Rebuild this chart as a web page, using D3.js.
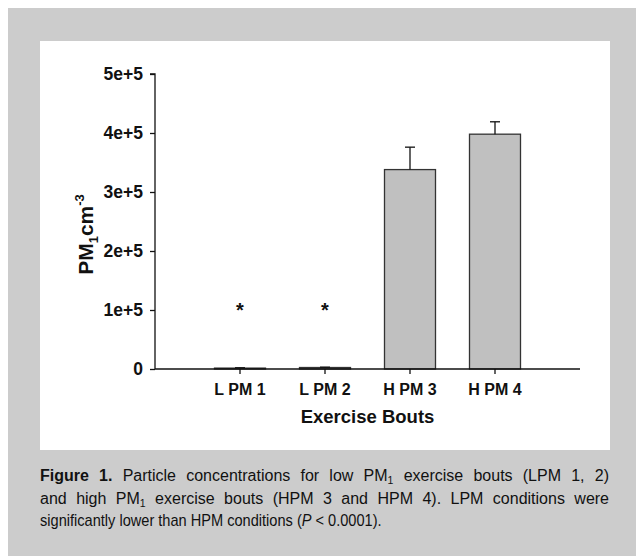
<!DOCTYPE html>
<html>
<head>
<meta charset="utf-8">
<script src="https://cdn.jsdelivr.net/npm/d3@7"></script>
<style>
  body { margin: 0; background: #fff; }
  svg text { font-family: "Liberation Sans", Arial, sans-serif; fill: #111; }
</style>
</head>
<body>
<svg id="chart" width="636" height="556"></svg>
<script>
// data
const bouts = ["L PM 1", "L PM 2", "H PM 3", "H PM 4"];
const means = [1500, 2500, 338000, 398000];
const errors = [600, 600, 38000, 21000];
const significant = [true, true, false, false];
const yTicks = [0, 1e5, 2e5, 3e5, 4e5, 5e5];
const yTickLabels = ["0", "1e+5", "2e+5", "3e+5", "4e+5", "5e+5"];

const svg = d3.select("#chart");

// grey figure frame with white plot panel
svg.append("rect").attr("x", 8).attr("y", 8).attr("width", 628).attr("height", 548).attr("fill", "#cccccc");
svg.append("rect").attr("x", 40).attr("y", 41).attr("width", 570).attr("height", 409).attr("fill", "#ffffff");

const margin = { left: 155, top: 74 },
    width = 425,
    height = 295,
    chart = svg.append("g").attr("transform", `translate(${margin.left},${margin.top})`);

const x = d3.scaleBand().domain(bouts).range([0, width]).paddingInner(0.4).paddingOuter(0.7);
const y = d3.scaleLinear().domain([0, 5e5]).range([height, 0]);

const rows = bouts.map((b, i) => ({ bout: b, mean: means[i], err: errors[i], sig: significant[i] }));

// bars
chart.selectAll(".bar")
    .data(rows)
    .enter()
    .append("rect")
    .attr("class", "bar")
    .attr("x", d => x(d.bout))
    .attr("width", x.bandwidth())
    .attr("y", d => y(d.mean))
    .attr("height", d => height - y(d.mean))
    .attr("fill", "#c0c0c0")
    .attr("stroke", "#333")
    .attr("stroke-width", 1.3);

// upper error bars
const eb = chart.selectAll(".err").data(rows).enter().append("g").attr("class", "err")
    .attr("stroke", "#111").attr("stroke-width", 1.3);
eb.append("line")
    .attr("x1", d => x(d.bout) + x.bandwidth() / 2)
    .attr("x2", d => x(d.bout) + x.bandwidth() / 2)
    .attr("y1", d => y(d.mean))
    .attr("y2", d => y(d.mean + d.err));
eb.append("line")
    .attr("x1", d => x(d.bout) + x.bandwidth() / 2 - 5)
    .attr("x2", d => x(d.bout) + x.bandwidth() / 2 + 5)
    .attr("y1", d => y(d.mean + d.err))
    .attr("y2", d => y(d.mean + d.err));

// significance stars
chart.selectAll(".star")
    .data(rows.filter(d => d.sig))
    .enter()
    .append("text")
    .attr("class", "star")
    .attr("x", d => x(d.bout) + x.bandwidth() / 2)
    .attr("y", y(1e5) + 7)
    .attr("text-anchor", "middle")
    .style("font-size", "20px")
    .style("font-weight", "bold")
    .text("*");

// axes
const yAxis = chart.append("g")
    .call(d3.axisLeft(y).tickValues(yTicks).tickFormat((d, i) => yTickLabels[i]).tickSize(5).tickPadding(7));
const xAxis = chart.append("g")
    .attr("transform", `translate(0,${height})`)
    .call(d3.axisBottom(x).tickSize(5).tickPadding(10));

[yAxis, xAxis].forEach(a => {
    a.select(".domain").attr("stroke", "#111").attr("stroke-width", 1.3);
    a.selectAll(".tick line").attr("stroke", "#111").attr("stroke-width", 1.3);
    a.selectAll("text")
        .style("font-size", "16px")
        .style("font-weight", "bold")
        .attr("fill", "#111");
});
yAxis.selectAll("text").style("font-size", "17.5px");
yAxis.select(".domain").attr("d", `M-5,${y(5e5)}H0V${height}`);
xAxis.select(".domain").attr("d", `M0,0H${width}`);

// axis titles
chart.append("text")
    .attr("text-anchor", "middle")
    .attr("x", width / 2)
    .attr("y", height + 54)
    .style("font-size", "18.5px")
    .style("font-weight", "bold")
    .text("Exercise Bouts");

const yTitle = chart.append("text")
    .attr("text-anchor", "middle")
    .attr("transform", `translate(-62,${height / 2 + 13}) rotate(-90)`)
    .style("font-size", "21px")
    .style("font-weight", "bold");
yTitle.append("tspan").text("PM");
yTitle.append("tspan").attr("dy", 5).style("font-size", "13px").text("1");
yTitle.append("tspan").attr("dy", -5).text("cm");
yTitle.append("tspan").attr("dy", -9).style("font-size", "13px").text("-3");

// caption: first two lines justified to the panel width, last line set tight
const captionLines = [
    [["Figure 1.", "b"], [" Particle concentrations for low PM", "n"], ["1", "sub"], [" exercise bouts (LPM 1, 2)", "n"]],
    [["and high PM", "n"], ["1", "sub"], [" exercise bouts (HPM 3 and HPM 4). LPM conditions were", "n"]],
    [["significantly lower than HPM conditions (", "n"], ["P", "i"], [" < 0.0001).", "n"]]
];
const captionRight = [609, 609, null];

captionLines.forEach((parts, li) => {
    const line = svg.append("g").attr("transform", `translate(40,${481 + li * 22.5})`);
    const t = line.append("text")
        .attr("x", 0)
        .attr("y", 0)
        .style("font-size", "16px")
        .attr("fill", "#1a1a1a");
    let prev = null;
    parts.forEach(([s, kind]) => {
        const ts = t.append("tspan").text(s);
        if (kind === "b") ts.style("font-weight", "bold");
        if (kind === "i") ts.style("font-style", "italic");
        if (kind === "sub") ts.style("font-size", "10.5px").attr("dy", 3);
        else if (prev === "sub") ts.attr("dy", -3);
        prev = kind;
    });
    const natural = t.node().getComputedTextLength();
    if (captionRight[li]) {
        const spaces = parts.map(p => p[0]).join("").split(" ").length - 1;
        t.style("word-spacing", ((captionRight[li] - 40 - natural) / spaces) + "px");
    } else {
        line.attr("transform", `translate(40,${481 + li * 22.5}) scale(${342 / natural},1)`);
    }
});
</script>
</body>
</html>
